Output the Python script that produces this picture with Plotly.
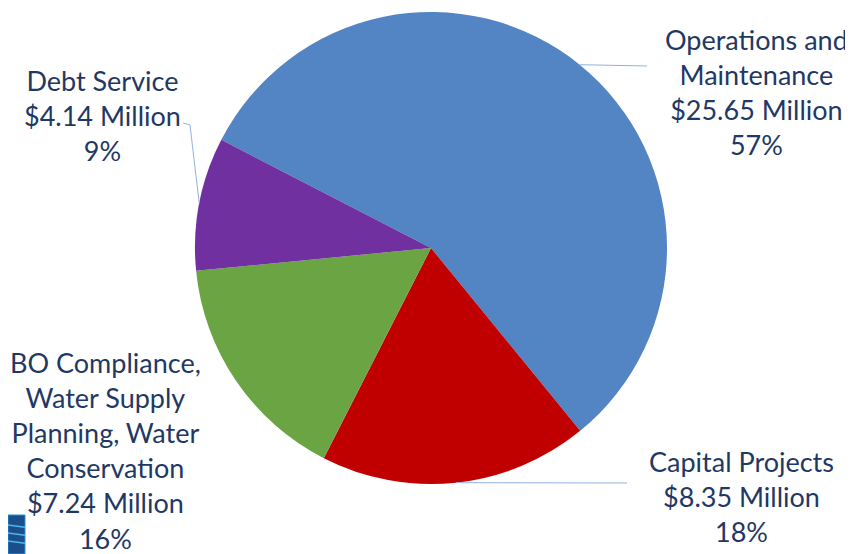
import math
import plotly.graph_objects as go

categories = ["Operations and<br>Maintenance", "Capital Projects",
              "BO Compliance,<br>Water Supply<br>Planning, Water<br>Conservation", "Debt Service"]
values = [25.65, 8.35, 7.24, 4.14]
percents = ["57%", "18%", "16%", "9%"]
colors = ["#5384c3", "#c00000", "#6aa443", "#7030a0"]

OFF = 8  # page body margin
W, H = 853 - OFF, 554 - OFF
CX, CY, R = 431 - OFF, 248 - OFF, 236
ROT = 297.3

# label centres (screen pixels) and leader-line end points
label_pos = [(756, 92), (741, 496), (105, 450), (102, 116)]
line_end = [[(647, 66)], [(627, 483)], [(237, 381)], [(190, 125), (183, 123)]]

fig = go.Figure(go.Pie(
    labels=[c.replace("<br>", " ") for c in categories], values=values,
    sort=False, direction="clockwise", rotation=ROT,
    marker=dict(colors=colors, line=dict(color="white", width=0)),
    textinfo="none", hoverinfo="label+value+percent", showlegend=False,
    domain=dict(x=[(CX - R) / W, (CX + R) / W], y=[(H - CY - R) / H, (H - CY + R) / H]),
))

def px(x, y):
    # screen pixel -> paper coords
    return (x - OFF) / W, 1 - (y - OFF) / H

total = sum(values)
cum = 0
shapes = []
annotations = []
for i, v in enumerate(values):
    mid = ROT + (cum + v / 2) / total * 360
    cum += v
    a = math.radians(mid)
    sx, sy = CX + OFF + R * math.sin(a), CY + OFF - R * math.cos(a)
    pts = [(sx, sy)] + line_end[i]
    for (x0, y0), (x1, y1) in zip(pts[:-1], pts[1:]):
        X0, Y0 = px(x0, y0)
        X1, Y1 = px(x1, y1)
        shapes.append(dict(type="line", xref="paper", yref="paper", x0=X0, y0=Y0, x1=X1, y1=Y1,
                           line=dict(color="#8fb3e0", width=1)))
    lx, ly = px(*label_pos[i])
    annotations.append(dict(
        xref="paper", yref="paper", x=lx, y=ly, xanchor="center", yanchor="middle",
        text=f"{categories[i]}<br>${v:.2f} Million<br>{percents[i]}",
        showarrow=False, align="center",
        font=dict(family="Lato, Open Sans, sans-serif", size=27, color="#1f3864")))

# small logo fragment bottom-left
x0, y0 = px(0, 515)
x1, y1 = px(25, 546)
shapes.append(dict(type="rect", xref="paper", yref="paper", x0=0, x1=x1, y0=0, y1=y0,
                   fillcolor="#1b4f8c", line=dict(color="#2a8fd0", width=1)))
for k in range(3):
    _, yy = px(0, 525 + k * 8)
    shapes.append(dict(type="line", xref="paper", yref="paper", x0=0, x1=x1, y0=yy, y1=yy - 0.004,
                       line=dict(color="#4fb6e8", width=1.5)))

fig.update_layout(width=W, height=H, margin=dict(l=0, r=0, t=0, b=0),
                  paper_bgcolor="white", plot_bgcolor="white",
                  shapes=shapes, annotations=annotations)
fig.write_html("out.html")
